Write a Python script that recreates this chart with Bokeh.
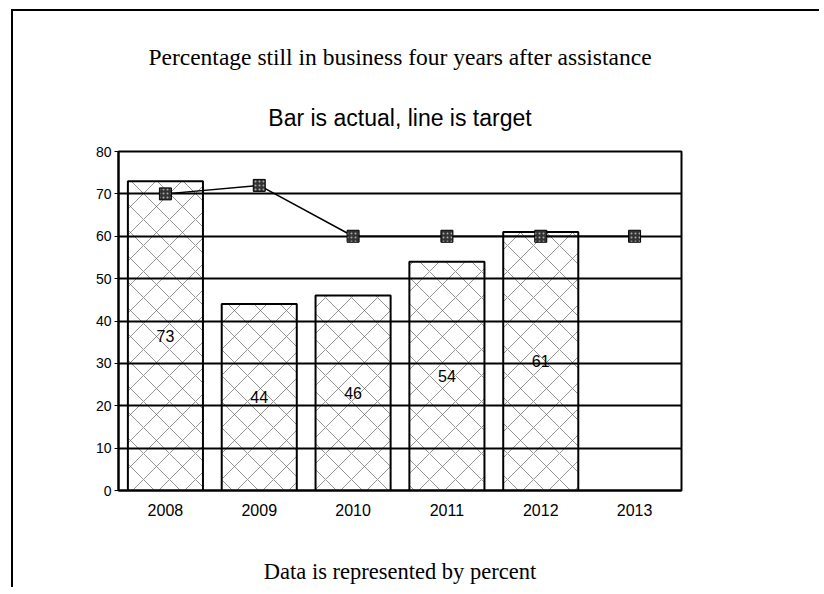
from bokeh.plotting import figure
from bokeh.models import ColumnDataSource, Title, FactorRange
from bokeh.embed import file_html
from bokeh.resources import INLINE
from bokeh.core.properties import value

years = ["2008", "2009", "2010", "2011", "2012", "2013"]
actual_years = ["2008", "2009", "2010", "2011", "2012"]
actual = [73, 44, 46, 54, 61]
target = [70, 72, 60, 60, 60, 60]
y_ticks = [0, 10, 20, 30, 40, 50, 60, 70, 80]

title_text = "Percentage still in business four years after assistance"
subtitle_text = "Bar is actual, line is target"
footer_text = "Data is represented by percent"

bar_src = ColumnDataSource(dict(x=actual_years, top=actual,
                                mid=[v / 2 for v in actual],
                                lbl=[str(v) for v in actual]))
line_src = ColumnDataSource(dict(x=years, y=target))

p = figure(width=808, height=578, x_range=FactorRange(*years, range_padding=0),
           y_range=(0, 80), output_backend="svg", toolbar_location=None,
           title=None, min_border_left=105, min_border_right=140,
           min_border_top=140, min_border_bottom=99)
p.background_fill_color = "white"
p.border_fill_color = "white"
p.outline_line_color = "black"
p.outline_line_width = 2

p.vbar(x="x", top="top", width=0.8, source=bar_src, fill_color="white",
       line_color="black", line_width=2, hatch_pattern="diagonal_cross",
       hatch_color="#666666", hatch_weight=0.7, hatch_scale=26)

p.text(x="x", y="mid", text="lbl", source=bar_src, text_align="center",
       text_baseline="middle", text_font=value("Liberation Sans"),
       text_font_size="16px", text_color="black")

lr = p.line(x="x", y="y", source=line_src, line_color="black", line_width=1.5)
sr = p.scatter(x="x", y="y", source=line_src, marker="square", size=12,
               fill_color="#333333", line_color="black", line_width=1,
               hatch_pattern="dot", hatch_color="#aaaaaa", hatch_scale=4)
lr.level = "overlay"
sr.level = "overlay"

p.xgrid.visible = False
p.ygrid.grid_line_color = "black"
p.ygrid.grid_line_width = 2
p.ygrid.level = "guide"
p.yaxis.ticker = y_ticks

for ax in (p.xaxis[0], p.yaxis[0]):
    ax.axis_line_color = "black"
    ax.axis_line_width = 2
    ax.major_label_text_font = "Liberation Sans"
    ax.major_label_text_color = "black"
    ax.minor_tick_line_color = None
p.xaxis.major_label_text_font_size = "16px"
p.xaxis.major_tick_line_color = None
p.xaxis.major_label_standoff = 7
p.yaxis.major_label_text_font_size = "14px"
p.yaxis.major_tick_out = 4
p.yaxis.major_tick_in = 0
p.yaxis.major_tick_line_color = "black"
p.yaxis.major_label_standoff = 3

# footer as the x-axis label
p.xaxis.axis_label = footer_text
p.xaxis.axis_label_text_font = "Liberation Serif"
p.xaxis.axis_label_text_font_size = "22.5px"
p.xaxis.axis_label_text_font_style = "normal"
p.xaxis.axis_label_text_color = "black"
p.xaxis.axis_label_standoff = 40

# first "above" title sits nearest the frame
p.add_layout(Title(text=subtitle_text, align="center", text_font="Liberation Sans",
                   text_font_size="23px", text_font_style="normal",
                   text_color="black", standoff=42), "above")
p.add_layout(Title(text=title_text, align="center", text_font="Liberation Serif",
                   text_font_size="23.5px", text_font_style="normal",
                   text_color="black", standoff=24), "above")

p.styles = {"border-left": "2px solid black", "border-top": "2px solid black",
            "margin-left": "11px", "margin-top": "9px"}

open("out.html", "w").write(file_html(p, INLINE))
